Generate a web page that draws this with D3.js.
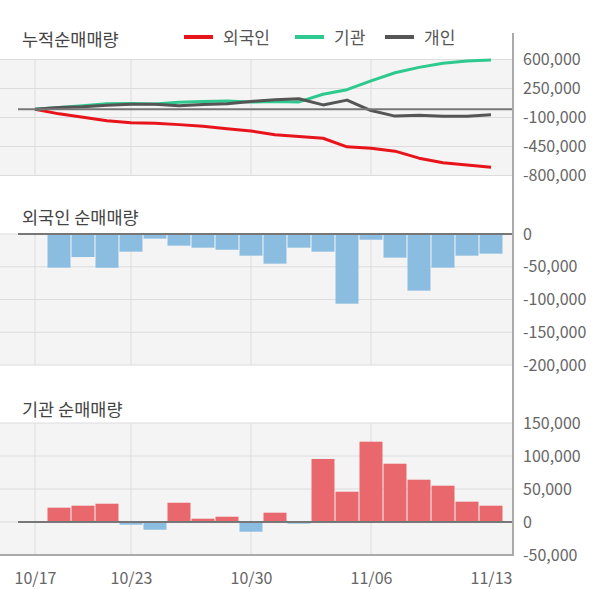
<!DOCTYPE html>
<html>
<head>
<meta charset="utf-8">
<script src="https://cdn.jsdelivr.net/npm/d3@7"></script>
<style>
  html, body { margin: 0; padding: 0; background: #fff; }
  svg { display: block; font-family: "Noto Sans CJK KR", "Noto Sans", sans-serif; }
</style>
</head>
<body>
<div id="chart"></div>
<script>
// ---------- data ----------
const dates = ['10/17','10/18','10/19','10/20','10/23','10/24','10/25','10/26','10/27','10/30',
               '10/31','11/01','11/02','11/03','11/06','11/07','11/08','11/09','11/10','11/13'];
const dateTickIdx = [0, 4, 9, 14, 19];
const gridIdx = [0, 4, 9, 14];

// cumulative net buying (누적순매매량)
const cumForeign = [0, -56000, -97000, -138000, -162000, -168000, -186000, -205000, -235000, -263000,
                    -308000, -329000, -350000, -454000, -470000, -506000, -591000, -645000, -673000, -701000];
const cumInst    = [0, 20000, 42000, 66000, 68000, 62000, 85000, 92000, 98000, 86000,
                    92000, 88000, 180000, 236000, 342000, 440000, 505000, 555000, 582000, 595000];
const cumIndiv   = [0, 22000, 30000, 49000, 61000, 61000, 41000, 57000, 66000, 94000,
                    114000, 127000, 52000, 110000, -16000, -83000, -73000, -85000, -85000, -68000];

// daily net buying
const foreignDaily = [0, -51400, -35100, -51500, -27000, -7100, -17800, -20900, -24000, -33100,
                      -45300, -20900, -27000, -106400, -8700, -36100, -86500, -51400, -33100, -30000];
const instDaily    = [0, 21700, 24700, 27700, -4100, -11700, 29200, 5000, 8000, -14700,
                      14100, -2500, 95500, 45900, 121700, 88300, 64100, 55000, 30800, 24700];

const topTicks = [600000, 250000, -100000, -450000, -800000];
const midTicks = [0, -50000, -100000, -150000, -200000];
const botTicks = [150000, 100000, 50000, 0, -50000];

const seriesNames = ['외국인', '기관', '개인'];
const seriesColors = ['#e8141c', '#2dc98e', '#555555'];
const titles = ['누적순매매량', '외국인 순매매량', '기관 순매매량'];

// ---------- layout ----------
const W = 600, H = 604;
const plotLeft = 0, plotRight = 513, zeroLeft = 18;
const fmt = d3.formatLocale({decimal: ".", thousands: ",", grouping: [3], currency: ["", ""], minus: "-"}).format(",");

const svg = d3.select('#chart').append('svg').attr('width', W).attr('height', H);

const x = d3.scaleLinear().domain([0, dates.length - 1]).range([35, 491]);

const yTop = d3.scaleLinear().domain([-800000, 600000]).range([175.5, 59.5]);
const yMid = d3.scaleLinear().domain([-200000, 0]).range([365, 234]);
const yBot = d3.scaleLinear().domain([-50000, 150000]).range([555, 423]);

const panels = [
  {y: yTop, ticks: topTicks},
  {y: yMid, ticks: midTicks},
  {y: yBot, ticks: botTicks}
];

panels.forEach(p => {
  const [y0, y1] = p.y.range(); // bottom, top
  const g = svg.append('g');
  g.append('rect').attr('x', plotLeft).attr('y', y1).attr('width', plotRight - plotLeft)
    .attr('height', y0 - y1).attr('fill', '#f4f4f4');
  // horizontal grid
  g.selectAll('line.h').data(p.ticks).join('line')
    .attr('x1', plotLeft).attr('x2', plotRight)
    .attr('y1', d => p.y(d)).attr('y2', d => p.y(d))
    .attr('stroke', '#dcdcdc').attr('stroke-width', 1);
  // vertical grid
  g.selectAll('line.v').data(gridIdx).join('line')
    .attr('x1', d => x(d)).attr('x2', d => x(d))
    .attr('y1', y1).attr('y2', y0)
    .attr('stroke', '#dcdcdc').attr('stroke-width', 1);
  // right axis labels
  const ax = d3.axisRight(p.y).tickValues(p.ticks).tickSize(0).tickPadding(10).tickFormat(fmt);
  const ag = svg.append('g').attr('transform', `translate(${plotRight},0)`).call(ax);
  ag.select('.domain').remove();
  ag.selectAll('text').attr('fill', '#666').style('font-size', '16px')
    .style('font-family', '"Noto Sans CJK KR", "Noto Sans", sans-serif');
});

// ---------- top: cumulative lines ----------
const line = d3.line().x((d, i) => x(i)).y(d => yTop(d));
[cumForeign, cumInst, cumIndiv].forEach((arr, k) => {
  svg.append('path').datum(arr).attr('d', line)
    .attr('fill', 'none').attr('stroke', seriesColors[k]).attr('stroke-width', 3)
    .attr('stroke-linejoin', 'round');
});

// ---------- bars ----------
const barW = 23;
function drawBars(arr, y) {
  svg.append('g').selectAll('rect').data(arr.map((v, i) => ({v, i})).filter(d => d.v !== 0)).join('rect')
    .attr('x', d => x(d.i) - barW / 2)
    .attr('width', barW)
    .attr('y', d => Math.min(y(0), y(d.v)))
    .attr('height', d => Math.abs(y(d.v) - y(0)))
    .attr('fill', d => d.v >= 0 ? '#e9686d' : '#8bbde1');
}
drawBars(foreignDaily, yMid);
drawBars(instDaily, yBot);

// ---------- zero lines ----------
[yTop, yMid, yBot].forEach(y => {
  svg.append('line').attr('x1', zeroLeft).attr('x2', plotRight)
    .attr('y1', y(0)).attr('y2', y(0))
    .attr('stroke', '#777').attr('stroke-width', 2);
});

// ---------- frame ----------
svg.append('line').attr('x1', plotLeft).attr('x2', plotRight + 1).attr('y1', 555).attr('y2', 555)
  .attr('stroke', '#aaa').attr('stroke-width', 2);
svg.append('line').attr('x1', plotRight).attr('x2', plotRight).attr('y1', 33).attr('y2', 556)
  .attr('stroke', '#aaa').attr('stroke-width', 2);

// ---------- x axis ----------
const xa = d3.axisBottom(x).tickValues(dateTickIdx).tickSize(0).tickPadding(18).tickFormat(i => dates[i]);
const xg = svg.append('g').attr('transform', 'translate(0,555)').call(xa);
xg.select('.domain').remove();
xg.selectAll('text').attr('fill', '#666').style('font-size', '16px')
  .style('font-family', '"Noto Sans CJK KR", "Noto Sans", sans-serif');

// ---------- titles ----------
const titleY = [40, 218, 410];
titles.forEach((t, k) => {
  svg.append('text').attr('x', 22).attr('y', titleY[k]).attr('dy', '0.35em')
    .attr('fill', '#444').style('font-size', '17.5px').text(t);
});

// ---------- legend ----------
const legendX = [184, 295, 385];
seriesNames.forEach((n, k) => {
  svg.append('line').attr('x1', legendX[k]).attr('x2', legendX[k] + 29)
    .attr('y1', 37).attr('y2', 37).attr('stroke', seriesColors[k]).attr('stroke-width', 4);
  svg.append('text').attr('x', legendX[k] + 39).attr('y', 38).attr('dy', '0.35em')
    .attr('fill', '#555').style('font-size', '17px').text(n);
});
</script>
</body>
</html>
